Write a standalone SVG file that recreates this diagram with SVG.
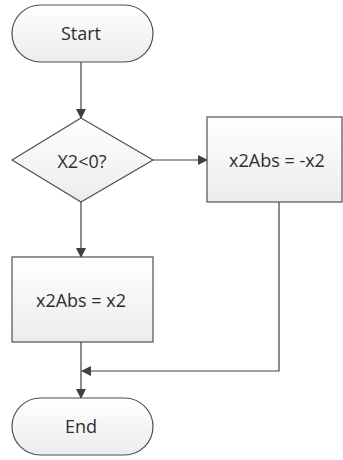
<svg xmlns="http://www.w3.org/2000/svg" width="343" height="460" viewBox="0 0 343 460">
<defs>
<linearGradient id="g" x1="0" y1="0" x2="0" y2="1"><stop offset="0" stop-color="#ffffff"/><stop offset="1" stop-color="#ececec"/></linearGradient>
<marker id="arr" markerWidth="10" markerHeight="10" refX="9" refY="5" orient="auto" markerUnits="userSpaceOnUse"><path d="M0,0 L10,5 L0,10 Z" fill="#404040"/></marker>
</defs>
<style>
.s{fill:url(#g);stroke:#505050;stroke-width:1.2}
.t{font-family:"Open Sans","Liberation Sans",sans-serif;font-size:18px;fill:#2e2e2e;text-anchor:middle;dominant-baseline:central}
.c{fill:none;stroke:#404040;stroke-width:1.2}
</style>
<g id="connectors">
<path class="c" d="M81,62 V118" marker-end="url(#arr)"/>
<path class="c" d="M153,160 H207" marker-end="url(#arr)"/>
<path class="c" d="M81,202 V257" marker-end="url(#arr)"/>
<path class="c" d="M279,202 V371 H82" marker-end="url(#arr)"/>
<path class="c" d="M81,342 V398" marker-end="url(#arr)"/>
</g>
<g id="start"><rect class="s" x="12" y="5" width="141" height="57" rx="28.5"/><text class="t" x="81" y="33">Start</text></g>
<g id="decision"><path class="s" d="M81,118 L153,160 L81,202 L12,160 Z"/><text class="t" x="82" y="161">X2&lt;0?</text></g>
<g id="neg"><rect class="s" x="207" y="117" width="135" height="85"/><text class="t" x="277" y="160">x2Abs = -x2</text></g>
<g id="pos"><rect class="s" x="12" y="257" width="141" height="85"/><text class="t" x="81" y="300">x2Abs = x2</text></g>
<g id="end"><rect class="s" x="12" y="398" width="141" height="57" rx="28.5"/><text class="t" x="81" y="426">End</text></g>
</svg>
